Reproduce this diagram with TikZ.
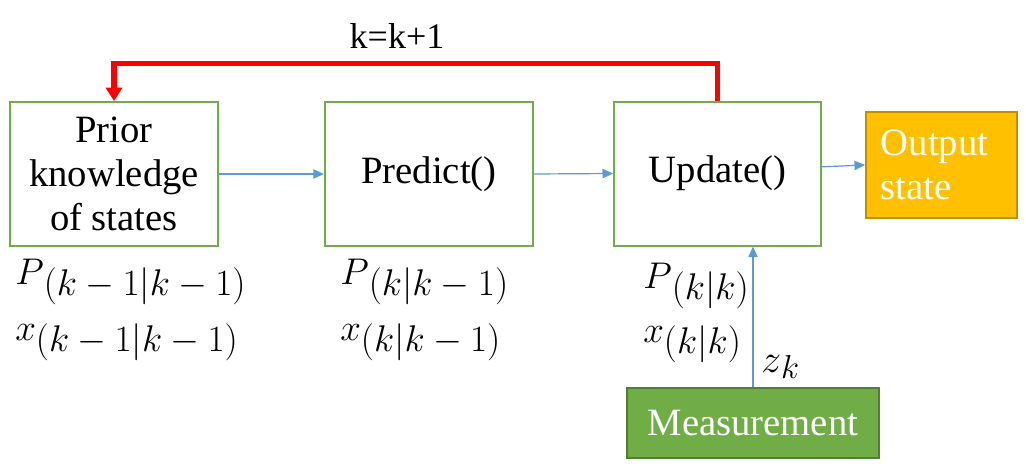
\documentclass[tikz,border=0pt]{standalone}
\usepackage{fontspec}
\usepackage{graphicx}
\setmainfont{Liberation Serif}
\usetikzlibrary{arrows.meta,calc}
\definecolor{gbord}{HTML}{70AD47}
\definecolor{barrowc}{HTML}{5B9BD5}
\definecolor{ofill}{HTML}{FFC000}
\definecolor{obord}{HTML}{BF9000}
\definecolor{mbord}{HTML}{507E32}
\newcommand{\sublab}[2]{\scalebox{1.12}{$#1$\raisebox{-8pt}{$#2$}}}
\tikzset{
  stbox/.style={draw=gbord, line width=1.5pt, fill=white, minimum width=156pt, minimum height=108pt, align=center, inner sep=2pt, font=\fontsize{29}{33}\selectfont},
  barrow/.style={draw=barrowc, line width=0.9pt, -{Triangle[length=8pt,width=7pt]}},
  rarrow/.style={draw=red, line width=3.8pt, -{Triangle[length=10pt,width=12pt]}},
  mlab/.style={anchor=base west, inner sep=0pt, font=\fontsize{24}{28}\selectfont},
}
\begin{document}
\begin{tikzpicture}[x=0.75pt,y=-0.75pt]
\useasboundingbox (0,0) rectangle (1026,468);
\node[stbox] (prior) at (114,174) {Prior\\knowledge\\of states};
\node[stbox] (pred) at (429,174) {Predict()};
\node[stbox, minimum width=155pt] (upd) at (717.5,173.5) {Update()};
\node[draw=obord, line width=1.5pt, fill=ofill, minimum width=113pt, minimum height=79.5pt, text width=91pt, inner xsep=11pt, align=left, text=white, font=\fontsize{29}{33}\selectfont] (out) at (941.5,165) {Output\\state};
\node[draw=mbord, line width=1.5pt, fill=gbord, minimum width=189pt, minimum height=52.5pt, text=white, font=\fontsize{29}{33}\selectfont] (meas) at (753,423) {Measurement};

\draw[barrow] (prior.east) -- (pred.west);
\draw[barrow] (pred.east) -- (upd.west);
\draw[barrow] ([yshift=5pt]upd.east) -- (out.west);
\draw[barrow] (meas.north) -- (meas.north |- upd.south);
\draw[rarrow] (upd.north) -- ++(0,-37) -| (prior.north);

\node[font=\fontsize{27}{30}\selectfont, anchor=base] (kk) at (397,48) {k=k+1};

\node[mlab] (p1) at (15,284) {\sublab{P}{(k-1|k-1)}};
\node[mlab] (x1) at (15,340) {\sublab{x}{(k-1|k-1)}};
\node[mlab] (p2) at (340,284) {\sublab{P}{(k|k-1)}};
\node[mlab] (x2) at (340,340) {\sublab{x}{(k|k-1)}};
\node[mlab] (p3) at (643,288) {\sublab{P}{(k|k)}};
\node[mlab] (x3) at (643,342) {\sublab{x}{(k|k)}};
\node[mlab] (zk) at (761,372) {\scalebox{1.2}{$z$\raisebox{-4pt}{\fontsize{20}{22}\selectfont$k$}}};
\end{tikzpicture}
\end{document}
